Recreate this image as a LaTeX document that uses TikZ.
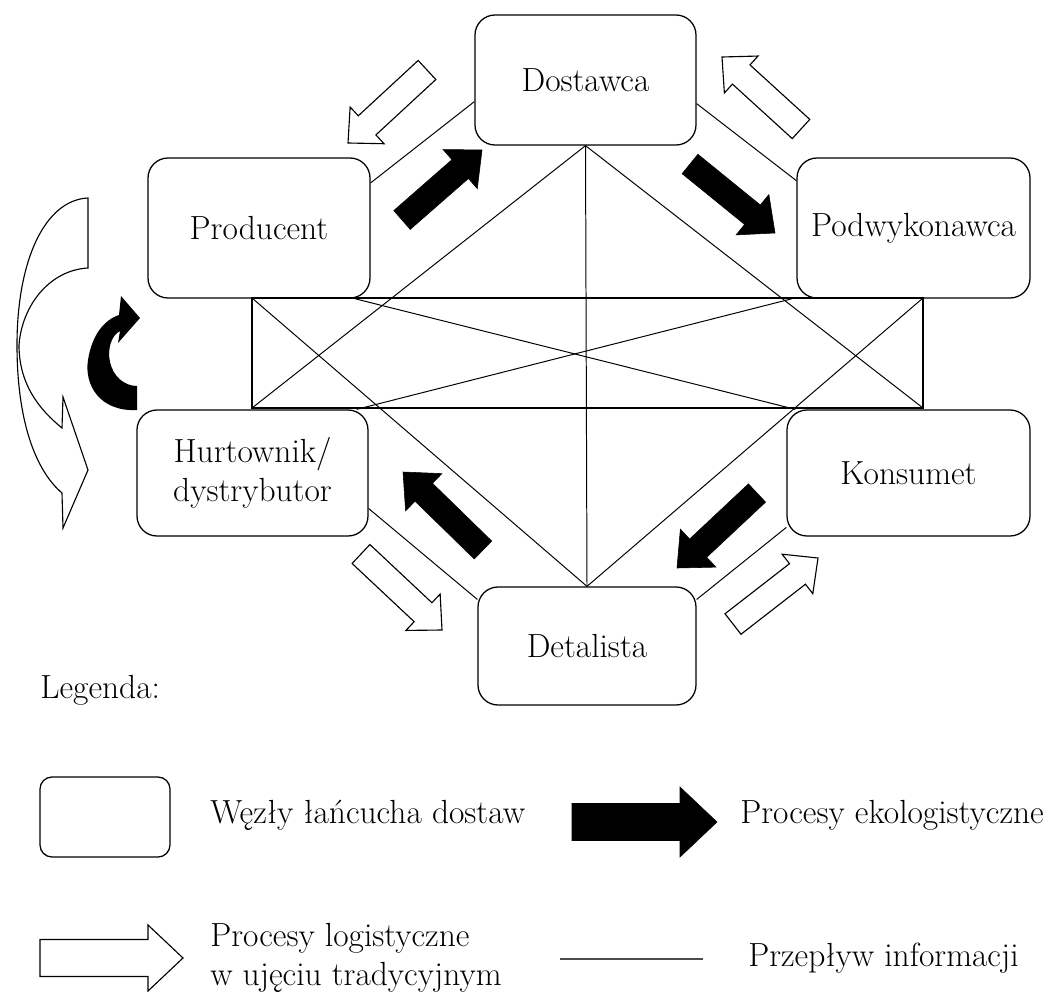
\documentclass[tikz,border=0pt]{standalone}
\usepackage{fontspec}
\usepackage{tikz}
\usetikzlibrary{calc}

\def\px{0.025cm}
\newcommand{\diagfont}{\fontsize{23.8}{27.5}\selectfont}
% block arrow from tail #2 to tip #3 (half shaft #4, half head #5, head length #6, in px)
\newcommand{\blockarrow}[6]{%
  \coordinate (ba-base) at ($(#3)!#6*\px!(#2)$);
  \path[#1] ($(#2)!#4*\px!90:(#3)$) -- ($(ba-base)!#4*\px!-90:(#2)$)
    -- ($(ba-base)!#5*\px!-90:(#2)$) -- (#3) -- ($(ba-base)!#5*\px!90:(#2)$)
    -- ($(ba-base)!#4*\px!90:(#2)$) -- ($(#2)!#4*\px!-90:(#3)$) -- cycle;
}

\tikzset{
  wezel/.style={draw, rounded corners=0.5cm, line width=0.9pt, inner sep=0pt, align=center, font=\diagfont},
  infoline/.style={line width=0.7pt},
  ecoarrow/.style={fill=black, draw=black, line width=0.4pt, line join=miter},
  tradarrow/.style={fill=white, draw=black, line width=0.8pt, line join=miter},
  legtext/.style={anchor=west, inner sep=0pt, align=left, font=\diagfont},
}

\begin{document}
\begin{tikzpicture}[x=0.025cm, y=-0.025cm]
    \useasboundingbox (0,0) rectangle (1052,992);

    % Nodes of the supply chain
    \node[wezel, minimum width=221*\px, minimum height=130*\px] (dost) at (585.5,80) {Dostawca};
    \node[wezel, minimum width=222*\px, minimum height=140*\px] (prod) at (259,228) {Producent};
    \node[wezel, minimum width=233*\px, minimum height=140*\px] (podw) at (913.5,228) {Podwykonawca};
    \node[wezel, minimum width=231*\px, minimum height=126*\px] (hurt) at (252.5,473) {Hurtownik/\\dystrybutor};
    \node[wezel, minimum width=243*\px, minimum height=126*\px] (kons) at (908.5,473) {Konsumet};
    \node[wezel, minimum width=218*\px, minimum height=118*\px] (detal) at (587,646) {Detalista};
    \node[draw, line width=0.9pt, inner sep=0pt, outer sep=0pt,
          minimum width=671*\px, minimum height=110*\px] (hub) at (587.5,353) {};

    % Information flow
    \draw[infoline] (dost.south) -- (hub.south west);
    \draw[infoline] (dost.south) -- (hub.south east);
    \draw[infoline] (dost.south) -- (detal.north);
    \draw[infoline] (detal.north) -- (hub.north west);
    \draw[infoline] (detal.north) -- (hub.north east);
    \draw[infoline] ($(prod.south east)+(-16,0)$) -- ($(kons.north west)+(9,0)$);
    \draw[infoline] ($(podw.south west)+(-4,0)$) -- ($(hurt.north east)+(-12,0)$);
    \draw[infoline] (prod.22) -- (dost.191.8);
    \draw[infoline] (dost.348.2) -- (podw.158.9);
    \draw[infoline] (hurt.343.6) -- (detal.157.1);
    \draw[infoline] (kons.204) -- (detal.23);

    % Procesy ekologistyczne
    \foreach \ax/\ay/\bx/\by in {402/220/482/150, 690/164/775/233, 757/493/677/568, 483/550/403/472} {
        \coordinate (ta) at (\ax,\ay);
        \coordinate (tb) at (\bx,\by);
        \blockarrow{ecoarrow}{ta}{tb}{12.5}{26}{29}
    }
    \fill (137,410) .. controls (100,412) and (84,385) .. (88,360)
        .. controls (92,335) and (104,320) .. (119,315) -- (121,296) -- (140,318)
        -- (118,343) -- (120,331) .. controls (112,335) and (107,348) .. (110,362)
        .. controls (113,376) and (124,386) .. (137,386) -- cycle;

    % Procesy logistyczne w ujeciu tradycyjnym
    \foreach \ax/\ay/\bx/\by in {427/70/348/143, 801/129/722/57, 361/554/442/630, 733/624/818/558} {
        \coordinate (ta) at (\ax,\ay);
        \coordinate (tb) at (\bx,\by);
        \blockarrow{tradarrow}{ta}{tb}{13}{25}{26}
    }
    \draw[tradarrow] (88,198) .. controls (45,200) and (17,260) .. (17,345)
        .. controls (17,420) and (35,470) .. (62,493) -- (63,528) -- (88,470)
        -- (63,397) -- (62,428) .. controls (40,410) and (19,385) .. (19,345)
        .. controls (22,305) and (50,270) .. (88,268) -- cycle;

    % Legend
    \node[legtext] (leg) at (40,690) {Legenda:};
    \node[draw, rounded corners=0.3cm, line width=0.9pt, minimum width=130*\px, minimum height=80*\px] (legbox) at (105,817) {};
    \node[legtext] (legwezel) at (210,815) {Węzły łańcucha dostaw};
    \coordinate (la) at (572,822);
    \coordinate (lb) at (717,822);
    \blockarrow{ecoarrow}{la}{lb}{18.5}{35}{37}
    \node[legtext] (legeko) at (740,815) {Procesy ekologistyczne};
    \coordinate (lc) at (40,958);
    \coordinate (ld) at (183,958);
    \blockarrow{tradarrow}{lc}{ld}{18.5}{33}{35}
    \node[legtext] (legtrad) at (210,958) {Procesy logistyczne\\w ujęciu tradycyjnym};
    \coordinate (le) at (560,959);
    \coordinate (lf) at (703,959);
    \draw[line width=1.2pt, black!70] (le) -- (lf);
    \node[legtext] (leginfo) at (748,958) {Przepływ informacji};
\end{tikzpicture}
\end{document}
